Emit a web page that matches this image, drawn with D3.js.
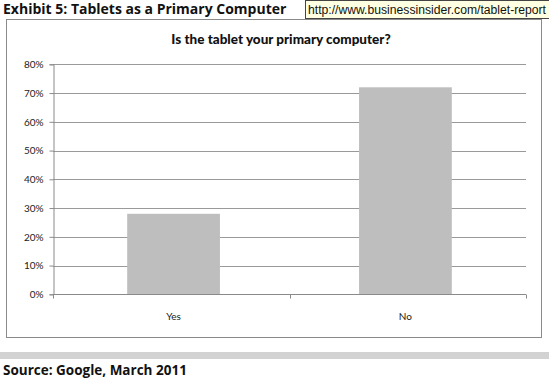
<!DOCTYPE html>
<html>
<head>
<meta charset="utf-8">
<script src="https://cdn.jsdelivr.net/npm/d3@7"></script>
<style>
  body { margin: 0; background: #fff; }
  svg { display: block; }
</style>
</head>
<body>
<div id="chart"></div>
<script>
'use strict';

const categories = ['Yes', 'No'];
const shares = [28, 72];             // percent of respondents
const yTicks = [0, 10, 20, 30, 40, 50, 60, 70, 80];

const W = 549, H = 379;
const svg = d3.select('#chart').append('svg').attr('width', W).attr('height', H);

// exhibit heading
svg.append('text').attr('x', 3).attr('y', 14)
  .attr('font-family', 'Open Sans, sans-serif').attr('font-weight', 'bold').attr('font-size', 14)
  .attr('fill', '#111').text('Exhibit 5: Tablets as a Primary Computer');

// outer chart frame
svg.append('rect').attr('x', 6.5).attr('y', 19.5).attr('width', 535).attr('height', 318)
  .attr('fill', '#fff').attr('stroke', '#8a8a8a').attr('stroke-width', 1);

// chart title
svg.append('text').attr('x', 281).attr('y', 44).attr('text-anchor', 'middle')
  .attr('font-family', 'Lato, sans-serif').attr('font-weight', 900).attr('font-size', 13.5)
  .attr('fill', '#111').text('Is the tablet your primary computer?');

const margin = {top: 64.3, left: 53, right: 526, bottom: 294.3};

let x = d3.scaleBand().domain(categories).range([margin.left, margin.right])
  .paddingInner(0.6).paddingOuter(0.32);
let y = d3.scaleLinear().domain([0, 80]).range([margin.bottom, margin.top]);

// gridlines
svg.append('g').selectAll('line').data(yTicks.filter(d => d > 0)).join('line')
  .attr('x1', margin.left).attr('x2', margin.right)
  .attr('y1', d => Math.round(y(d)) + 0.5).attr('y2', d => Math.round(y(d)) + 0.5)
  .attr('stroke', '#9a9a9a').attr('stroke-width', 1);

// bars
svg.append('g').selectAll('rect').data(shares).join('rect')
  .attr('x', (d, i) => x(categories[i]))
  .attr('width', x.bandwidth())
  .attr('y', d => y(d))
  .attr('height', d => y(0) - y(d))
  .attr('fill', '#bebebe');

// y axis
let yAxis = d3.axisLeft(y).tickValues(yTicks).tickFormat(d => d + '%').tickSize(4).tickPadding(6);
let gy = svg.append('g').attr('transform', `translate(${margin.left + 0.5},0)`).call(yAxis);
gy.select('.domain').attr('stroke', '#8a8a8a');
gy.selectAll('.tick line').attr('stroke', '#8a8a8a');
gy.selectAll('.tick text').attr('font-family', 'Lato, sans-serif').attr('font-size', 10).attr('fill', '#222');

// x axis, ticks sit between categories
let xEdge = d3.scaleLinear().domain([0, categories.length]).range([margin.left, margin.right]);
let gx = svg.append('g').attr('transform', `translate(0,${Math.round(y(0)) + 0.5})`);
gx.append('line').attr('x1', margin.left).attr('x2', margin.right)
  .attr('stroke', '#8a8a8a');
gx.selectAll('.tk').data(d3.range(categories.length + 1)).join('line').attr('class', 'tk')
  .attr('x1', d => Math.round(xEdge(d)) + 0.5).attr('x2', d => Math.round(xEdge(d)) + 0.5)
  .attr('y1', 0).attr('y2', 4).attr('stroke', '#8a8a8a');
gx.selectAll('text').data(categories).join('text')
  .attr('x', d => x(d) + x.bandwidth() / 2).attr('y', 25)
  .attr('text-anchor', 'middle').attr('font-family', 'Lato, sans-serif').attr('font-size', 10)
  .attr('fill', '#222').text(d => d);

// grey rule and source line
svg.append('rect').attr('x', 0).attr('y', 352).attr('width', W).attr('height', 7).attr('fill', '#d2d2d2');
svg.append('text').attr('x', 3).attr('y', 375)
  .attr('font-family', 'Open Sans, sans-serif').attr('font-weight', 'bold').attr('font-size', 13.5)
  .attr('fill', '#111').text('Source: Google, March 2011');

// browser tooltip with the url
svg.append('rect').attr('x', 305.5).attr('y', 0.5).attr('width', 250).attr('height', 18)
  .attr('fill', '#ffffe1').attr('stroke', '#444');
svg.append('text').attr('x', 308).attr('y', 14)
  .attr('font-family', 'Liberation Sans, Arial, sans-serif').attr('font-size', 12)
  .attr('textLength', 238).attr('lengthAdjust', 'spacingAndGlyphs')
  .attr('fill', '#111').text('http://www.businessinsider.com/tablet-report');
</script>
</body>
</html>
